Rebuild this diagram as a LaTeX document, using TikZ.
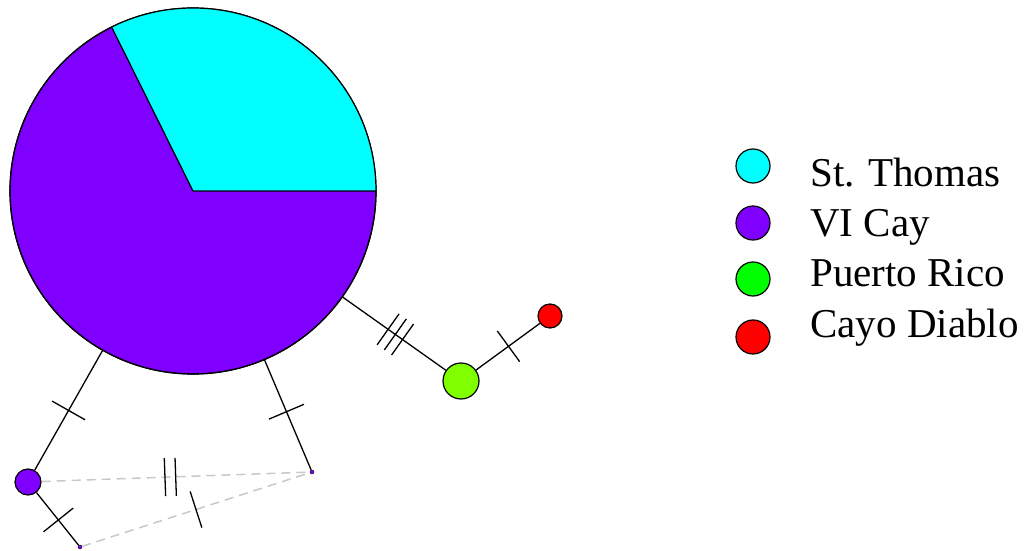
\documentclass[tikz,border=0pt]{standalone}
\usepackage{fontspec}
\setmainfont{Liberation Serif}
\usetikzlibrary{decorations.markings,calc}
\definecolor{stcyan}{RGB}{0,255,255}
\definecolor{vipurple}{RGB}{128,0,255}
\definecolor{prgreen}{RGB}{0,255,0}
\definecolor{prnode}{RGB}{128,255,0}
\definecolor{cdred}{RGB}{255,0,0}
\definecolor{dashgray}{RGB}{200,200,200}
\tikzset{
  hapnode/.style={circle, draw=black, line width=1.2pt, inner sep=0pt},
  dotnode/.style={circle, fill=vipurple, draw=black, line width=0.4pt, inner sep=0pt, minimum size=4pt},
  edge/.style={draw=black, line width=1.3pt},
  gedge/.style={draw=dashgray, line width=1.5pt, dash pattern=on 9pt off 6pt},
  legdot/.style={circle, draw=black, line width=1.2pt, inner sep=0pt, minimum size=34pt},
  legtext/.style={anchor=base west, inner sep=0pt, font=\fontsize{41}{41}\selectfont},
  ticks/.style={postaction={decorate, decoration={markings,
      mark=at position #1 with {\draw[black, line width=1.3pt, solid] (0,-19pt) -- (0,19pt);}}}},
}
\begin{document}
\begin{tikzpicture}[x=1pt,y=1pt]
\useasboundingbox (0,0) rectangle (1034,550);
% big pie node
\node[hapnode, fill=vipurple, minimum size=366pt] (big) at (193,359) {};
\fill[stcyan] (big.center) -- ++(0:183pt) arc[start angle=0, end angle=116.4, radius=183pt] -- cycle;
\draw[black, line width=1.2pt] ($(big.center)+(116.4:183pt)$) -- (big.center) -- ++(0:183pt);
\draw[black, line width=1.2pt] (big.center) circle[radius=183pt];
% other nodes
\node[hapnode, fill=vipurple, minimum size=26pt] (A) at (28,68) {};
\node[dotnode] (B) at (312,78) {};
\node[dotnode] (C) at (80,3) {};
\node[hapnode, fill=prnode, minimum size=36pt] (G) at (461,169) {};
\node[hapnode, fill=cdred, minimum size=24pt] (R) at (550,234) {};
% dashed edges
\path[gedge, ticks=0.46, ticks=0.50] (A) -- (B);
\path[gedge, ticks=0.50] (C) -- (B);
% solid edges
\path[edge, ticks=0.5] (big) -- (A);
\path[edge, ticks=0.47] (big) -- (B);
\path[edge, ticks=0.52] (A) -- (C);
\path[edge, ticks=0.44, ticks=0.51, ticks=0.58] (big) -- (G);
\path[edge, ticks=0.51] (G) -- (R);
% legend
\node[legdot, fill=stcyan] (l1) at (753,384) {};
\node[legdot, fill=vipurple] (l2) at (753,327) {};
\node[legdot, fill=prgreen] (l3) at (753,271) {};
\node[legdot, fill=cdred] (l4) at (753,213) {};
\node[legtext] (t1) at (810,363.5) {St. Thomas};
\node[legtext] (t2) at (810,313) {VI Cay};
\node[legtext] (t3) at (810,263.5) {Puerto Rico};
\node[legtext] (t4) at (810,213) {Cayo Diablo};
\end{tikzpicture}
\end{document}
